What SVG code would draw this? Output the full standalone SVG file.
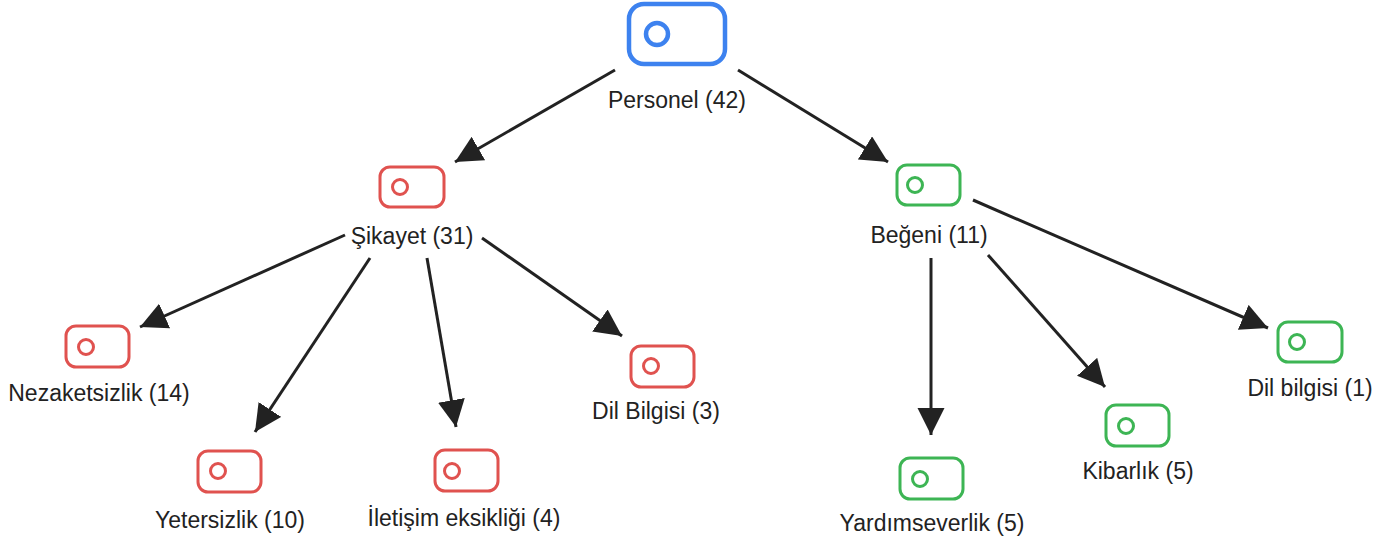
<svg xmlns="http://www.w3.org/2000/svg" width="1391" height="543" viewBox="0 0 1391 543">
<style>
.lbl{font-family:"Liberation Sans",Arial,sans-serif;font-size:23px;fill:#222;text-anchor:middle}
.red{fill:none;stroke:#e0524f;stroke-width:3}
.green{fill:none;stroke:#3db554;stroke-width:3}
.blue{fill:none;stroke:#3d82ef;stroke-width:4.5}
.edge{stroke:#222;stroke-width:3;fill:none;marker-end:url(#ah)}
</style>
<defs>
<marker id="ah" markerUnits="userSpaceOnUse" markerWidth="30" markerHeight="28" refX="27" refY="13.5" orient="auto">
<path d="M0,0 L27,13.5 L0,27 z" fill="#222"/>
</marker>
</defs>
<rect width="1391" height="543" fill="#fff"/>
<g id="connectors">
<line class="edge" x1="615" y1="70" x2="455" y2="162"/>
<line class="edge" x1="738" y1="70" x2="888" y2="162"/>
<line class="edge" x1="345" y1="235" x2="140" y2="327"/>
<line class="edge" x1="370" y1="258" x2="255" y2="432"/>
<line class="edge" x1="427" y1="258" x2="456" y2="427"/>
<line class="edge" x1="482" y1="238" x2="622" y2="336"/>
<line class="edge" x1="931" y1="258" x2="931" y2="435"/>
<line class="edge" x1="988" y1="255" x2="1105" y2="387"/>
<line class="edge" x1="973" y1="200" x2="1268" y2="328"/>
</g>
<g id="personel">
<rect class="blue" x="629" y="4" width="96" height="60" rx="15"/>
<circle class="blue" cx="657" cy="34" r="11"/>
<text class="lbl" x="677" y="108">Personel (42)</text>
</g>
<g id="sikayet">
<rect class="red" x="380" y="167" width="64" height="40" rx="10"/>
<circle class="red" cx="400" cy="187" r="7.5"/>
<text class="lbl" x="412" y="244">Şikayet (31)</text>
</g>
<g id="begeni">
<rect class="green" x="897" y="165" width="63" height="40" rx="10"/>
<circle class="green" cx="915" cy="185" r="7.5"/>
<text class="lbl" x="929" y="243">Beğeni (11)</text>
</g>
<g id="nezaketsizlik">
<rect class="red" x="66" y="326" width="63" height="41" rx="10"/>
<circle class="red" cx="86" cy="347" r="7.5"/>
<text class="lbl" x="99" y="401">Nezaketsizlik (14)</text>
</g>
<g id="yetersizlik">
<rect class="red" x="198" y="451" width="63" height="41" rx="10"/>
<circle class="red" cx="218" cy="471" r="7.5"/>
<text class="lbl" x="230" y="528">Yetersizlik (10)</text>
</g>
<g id="iletisim">
<rect class="red" x="435" y="450" width="63" height="41" rx="10"/>
<circle class="red" cx="452" cy="471" r="7.5"/>
<text class="lbl" x="464" y="526">İletişim eksikliği (4)</text>
</g>
<g id="dilbilgisi3">
<rect class="red" x="631" y="346" width="63" height="41" rx="10"/>
<circle class="red" cx="651" cy="366" r="7.5"/>
<text class="lbl" x="656" y="419">Dil Bilgisi (3)</text>
</g>
<g id="yardimseverlik">
<rect class="green" x="900" y="458" width="63" height="41" rx="10"/>
<circle class="green" cx="920" cy="479" r="7.5"/>
<text class="lbl" x="932" y="531">Yardımseverlik (5)</text>
</g>
<g id="kibarlik">
<rect class="green" x="1106" y="405" width="63" height="41" rx="10"/>
<circle class="green" cx="1126" cy="426" r="7.5"/>
<text class="lbl" x="1138" y="479">Kibarlık (5)</text>
</g>
<g id="dilbilgisi1">
<rect class="green" x="1278" y="322" width="64" height="40" rx="10"/>
<circle class="green" cx="1297" cy="342" r="7.5"/>
<text class="lbl" x="1310" y="396">Dil bilgisi (1)</text>
</g>
</svg>
